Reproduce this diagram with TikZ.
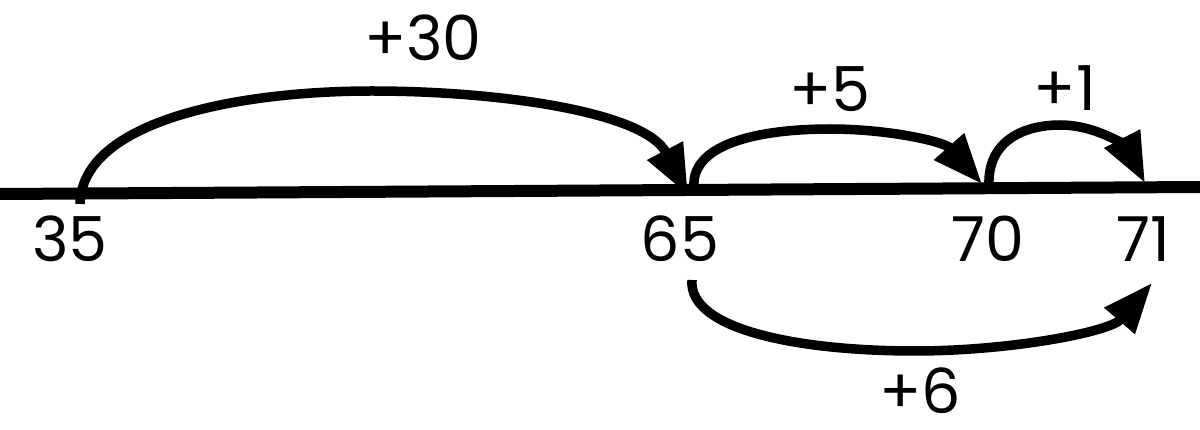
\documentclass[tikz,border=0pt]{standalone}
\usepackage{fontspec}
\setmainfont{Poppins}
\usetikzlibrary{arrows.meta}
\tikzset{
  numline/.style={line width=12pt},
  jump/.style={line width=9.5pt, -{Triangle[length=50pt,width=38pt]}},
  numlbl/.style={font=\fontsize{62}{70}\selectfont, inner sep=0pt, anchor=center},
}
\begin{document}
\begin{tikzpicture}[x=1pt,y=-1pt]
\useasboundingbox (0,0) rectangle (1200,430);
% number line
\coordinate (L) at (0,194);
\coordinate (R) at (1200,187);
\draw[numline] (L) -- (R);
% points
\coordinate (s35) at (80,204);
\coordinate (t65) at (688,195);
\coordinate (s65) at (694,188);
\coordinate (t70) at (982,184);
\coordinate (s70) at (989,186);
\coordinate (t71) at (1145,183);
\coordinate (b65) at (692,280);
\coordinate (b71) at (1152,283);
% labels
\node[numlbl] (n35) at (70,239) {35};
\node[numlbl] (n65) at (680,239) {65};
\node[numlbl] (n70) at (988,239) {70};
\node[numlbl] (n71) at (1143,239) {71};
\node[numlbl] (j30) at (423,38) {+30};
\node[numlbl] (j5) at (830,89) {+5};
\node[numlbl] (j1) at (1065,88) {+1};
\node[numlbl] (j6) at (920,391) {+6};
% jumps
\draw[jump] (s35) .. controls (82,120) and (240,91) .. (372,91)
  .. controls (500,91) and (645,112) .. (t65);
\draw[jump] (s65) .. controls (690,140) and (770,129) .. (830,129)
  .. controls (890,129) and (945,142) .. (t70);
\draw[jump] (s70) .. controls (987,140) and (1025,125) .. (1060,125)
  .. controls (1100,125) and (1128,150) .. (t71);
\draw[jump] (b65) .. controls (688,330) and (800,351) .. (915,351)
  .. controls (1010,351) and (1110,332) .. (b71);
\end{tikzpicture}
\end{document}
